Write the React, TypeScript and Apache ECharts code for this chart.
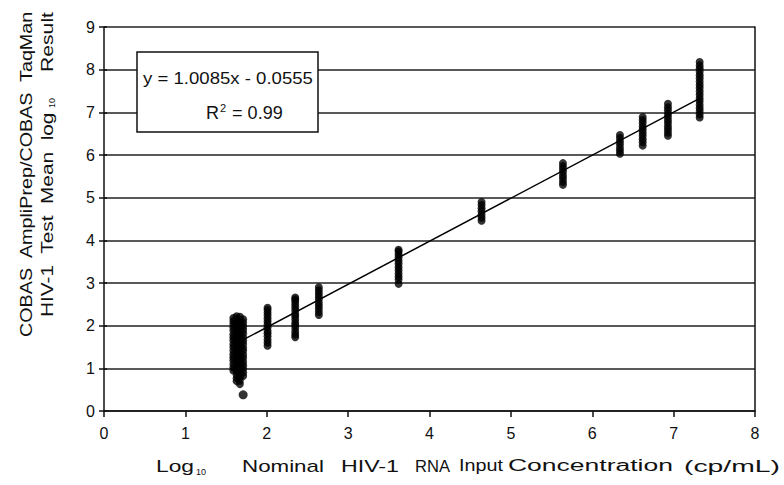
import React, { useEffect, useRef } from "react";
import * as echarts from "echarts";

// ---- data ----
const groupX = [1.59, 1.63, 1.67, 1.71, 2.01, 2.35, 2.64, 3.62, 4.64, 5.64, 6.34, 6.62, 6.93, 7.32];
const groupY: number[][] = [
  [0.95, 1.02, 1.1, 1.19, 1.26, 1.33, 1.42, 1.5, 1.57, 1.66, 1.73, 1.8, 1.89, 1.96, 2.04, 2.11, 2.18],
  [0.7, 0.77, 0.85, 0.93, 1.0, 1.08, 1.17, 1.24, 1.31, 1.4, 1.47, 1.55, 1.62, 1.7, 1.78, 1.86, 1.93, 2.01, 2.09, 2.16, 2.22],
  [0.63, 0.71, 0.79, 0.88, 0.96, 1.03, 1.12, 1.2, 1.27, 1.36, 1.44, 1.51, 1.6, 1.67, 1.75, 1.83, 1.91, 1.99, 2.06, 2.14, 2.21],
  [0.82, 0.9, 0.99, 1.07, 1.15, 1.24, 1.32, 1.41, 1.48, 1.57, 1.65, 1.73, 1.82, 1.9, 1.98, 2.07, 2.15],
  [1.53, 1.6, 1.67, 1.75, 1.82, 1.88, 1.96, 2.03, 2.1, 2.17, 2.24, 2.3, 2.37, 2.42],
  [1.73, 1.79, 1.86, 1.94, 2.01, 2.07, 2.15, 2.22, 2.28, 2.36, 2.43, 2.5, 2.57, 2.62, 2.66],
  [2.25, 2.32, 2.4, 2.47, 2.54, 2.62, 2.69, 2.76, 2.83, 2.9],
  [2.98, 3.08, 3.15, 3.22, 3.3, 3.37, 3.45, 3.52, 3.6, 3.67, 3.74, 3.78],
  [4.46, 4.53, 4.6, 4.68, 4.75, 4.83, 4.9],
  [5.3, 5.37, 5.45, 5.52, 5.6, 5.67, 5.74, 5.81],
  [6.03, 6.1, 6.17, 6.25, 6.32, 6.4, 6.47],
  [6.22, 6.3, 6.37, 6.45, 6.52, 6.6, 6.67, 6.75, 6.82, 6.89],
  [6.45, 6.52, 6.6, 6.67, 6.75, 6.82, 6.9, 6.97, 7.05, 7.12, 7.2],
  [6.88, 6.95, 7.03, 7.1, 7.18, 7.26, 7.33, 7.41, 7.49, 7.57, 7.64, 7.72, 7.8, 7.87, 7.95, 8.03, 8.1, 8.18],
];
const outlierPoints = [[1.71, 0.38]];
const fitSlope = 1.0085;
const fitIntercept = -0.0555;
const fitXRange = [1.62, 7.32];
const equationText = "y = 1.0085x - 0.0555";
const r2Value = "0.99";
const xTitleWords = ["Log", "Nominal", "HIV-1", "RNA", "Input", "Concentration", "(cp/mL)"];
const yTitleLine1 = "COBAS  AmpliPrep/COBAS  TaqMan";
const yTitleLine2a = "HIV-1  Test  Mean  log";
const yTitleLine2b = "Result";

// ---- layout (pixels) ----
const FONT = '"Liberation Sans", Arial, sans-serif';
const xWordSpans = [
  [156, 194], [242, 324], [341, 399], [415, 450], [459, 503], [508, 673], [684, 780],
];

function measure(text: string, size: number): number {
  const c = document.createElement("canvas").getContext("2d");
  if (!c) return text.length * size * 0.55;
  c.font = `${size}px "Liberation Sans"`;
  return c.measureText(text).width;
}

export default function App() {
  const ref = useRef<HTMLDivElement>(null);
  useEffect(() => {
    document.body.style.margin = "0";
    if (!ref.current) return;
    const chart = echarts.init(ref.current, null, { renderer: "svg" });

    const scatterData = groupX.flatMap((x, i) => groupY[i].map((y) => [x, y]));
    const fitData = fitXRange.map((x) => [x, fitSlope * x + fitIntercept]);

    const axisColor = "#111";
    const graphic: any[] = [];

    // x title words
    const xs = 16;
    xTitleWords.forEach((w, i) => {
      const [a, b] = xWordSpans[i];
      graphic.push({
        type: "text",
        x: a,
        y: 466,
        scaleX: (b - a) / measure(w, xs),
        style: { text: w, fontSize: xs, fontFamily: FONT, fill: axisColor, textAlign: "left", textVerticalAlign: "middle" },
      });
    });
    graphic.push({
      type: "text",
      x: 196,
      y: 472,
      style: { text: "10", fontSize: 9, fontFamily: FONT, fill: axisColor, textAlign: "left", textVerticalAlign: "middle" },
    });

    // y title (rotated)
    const addRot = (text: string, cx: number, bottom: number, top: number, size: number) => {
      graphic.push({
        type: "text",
        x: cx,
        y: bottom,
        rotation: Math.PI / 2,
        scaleX: (bottom - top) / measure(text, size),
        style: { text, fontSize: size, fontFamily: FONT, fill: axisColor, textAlign: "left", textVerticalAlign: "middle" },
      });
    };
    addRot(yTitleLine1, 27, 337, 10, 16);
    addRot(yTitleLine2a, 47, 317, 112, 16);
    graphic.push({
      type: "text",
      x: 52,
      y: 108,
      rotation: Math.PI / 2,
      style: { text: "10", fontSize: 9, fontFamily: FONT, fill: axisColor, textAlign: "left", textVerticalAlign: "middle" },
    });
    addRot(yTitleLine2b, 47, 72, 12, 16);

    // equation box
    graphic.push({
      type: "rect",
      z: 100,
      shape: { x: 137, y: 52, width: 181, height: 80 },
      style: { fill: "#fff", stroke: axisColor, lineWidth: 1.5 },
    });
    graphic.push({
      type: "text",
      z: 101,
      x: 228,
      y: 78,
      scaleX: 170 / measure(equationText, 17),
      style: { text: equationText, fontSize: 17, fontFamily: FONT, fill: axisColor, textAlign: "center", textVerticalAlign: "middle" },
    });
    graphic.push({
      type: "text",
      z: 101,
      x: 206,
      y: 113,
      style: {
        text: `{a|R}{s|2}{a| = ${r2Value}}`,
        fill: axisColor,
        textAlign: "left",
        textVerticalAlign: "middle",
        rich: {
          a: { fontSize: 18, fontFamily: FONT, fill: axisColor },
          s: { fontSize: 11, fontFamily: FONT, fill: axisColor, padding: [0, 1, 10, 1] },
        },
      },
    });

    const lineStyle = { color: axisColor, width: 1.5 };

    chart.setOption({
      animation: false,
      backgroundColor: "#fff",
      grid: { left: 104, right: 29, top: 27, bottom: 74 },
      xAxis: [
        {
          type: "value",
          min: 0,
          max: 8,
          interval: 1,
          axisLine: { show: true, onZero: false, lineStyle },
          axisTick: { show: true, length: 6, lineStyle },
          axisLabel: { fontSize: 16, color: axisColor, margin: 14, fontFamily: FONT },
          splitLine: { show: false },
        },
      ],
      yAxis: [
        {
          type: "value",
          min: 0,
          max: 9,
          interval: 1,
          axisLine: { show: true, onZero: false, lineStyle },
          axisTick: { show: true, length: 5, lineStyle },
          axisLabel: { fontSize: 16, color: axisColor, margin: 9, fontFamily: FONT },
          splitLine: { show: true, lineStyle: { color: "#222", width: 1.5 } },
        },
        {
          type: "value",
          min: 0,
          max: 9,
          interval: 1,
          position: "right",
          axisLine: { show: true, onZero: false, lineStyle },
          axisTick: { show: false },
          axisLabel: { show: false },
          splitLine: { show: false },
        },
        {
          type: "value",
          min: 0,
          max: 9,
          interval: 1,
          position: "left",
          axisLine: { show: false },
          axisTick: { show: true, inside: true, length: 3, lineStyle },
          axisLabel: { show: false },
          splitLine: { show: false },
        },
      ],
      series: [
        {
          type: "scatter",
          symbol: "circle",
          symbolSize: 8,
          itemStyle: { color: "#000" },
          data: scatterData,
          z: 2,
        },
        {
          type: "scatter",
          symbol: "circle",
          symbolSize: 9,
          itemStyle: { color: "#000" },
          data: outlierPoints,
          z: 2,
        },
        {
          type: "line",
          data: fitData,
          symbol: "none",
          showSymbol: false,
          lineStyle: { color: "#000", width: 1.5 },
          z: 3,
        },
      ],
      graphic,
    });
    return () => chart.dispose();
  }, []);
  return <div ref={ref} style={{ width: 784, height: 485 }} />;
}
